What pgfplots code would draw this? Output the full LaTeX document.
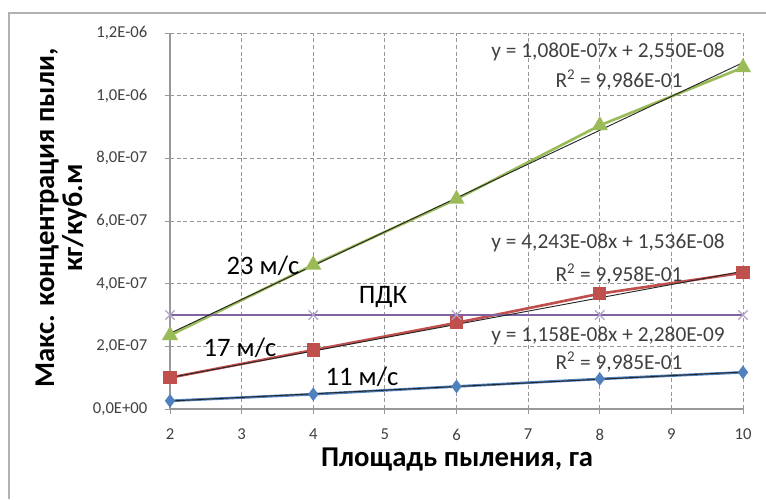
\documentclass[border=0pt]{standalone}
\usepackage{fontspec}
\setmainfont{Carlito}
\usepackage{pgfplots}
\pgfplotsset{compat=1.18}
\definecolor{exblue}{HTML}{4F81BD}
\definecolor{exred}{HTML}{C0504D}
\definecolor{exgreen}{HTML}{9BBB59}
\definecolor{expurple}{HTML}{8064A2}
\definecolor{expurplel}{HTML}{B3A2C7}
\definecolor{txtgray}{HTML}{404040}
\definecolor{gridgray}{HTML}{969696}
\begin{document}
\begin{tikzpicture}[x=0.75pt,y=0.75pt]
\useasboundingbox (0,0) rectangle (766,499);
% frame
\draw[color=black!30, line width=1.2pt] (9,0) -- (9,486) -- (766,486);
\begin{axis}[
  at={(127.5pt,67.5pt)}, anchor=south west,
  scale only axis, width=429.75pt, height=282pt,
  xmin=2, xmax=10, ymin=0, ymax=1.2e-6,
  xtick={2,3,...,10},
  xticklabels={2,3,4,5,6,7,8,9,10},
  ytick={0,2e-7,4e-7,6e-7,8e-7,1e-6,1.2e-6},
  yticklabels={0{,}0E+00,2{,}0E-07,4{,}0E-07,6{,}0E-07,8{,}0E-07,1{,}0E-06,1{,}2E-06},
  scaled y ticks=false,
  /pgf/number format/assume math mode=true,
  axis x line*=bottom, axis y line*=left,
  axis line style={color=black!40, line width=0.9pt},
  tick style={color=black!40, line width=0.7pt},
  tick align=outside, major tick length=4pt,
  grid=major,
  major grid style={color=gridgray, dash pattern=on 3pt off 2pt, line width=0.6pt},
  tick label style={font=\fontsize{12.5}{14}\selectfont, color=txtgray},
  xticklabel style={yshift=-7.5pt},
  yticklabel style={xshift=-9.5pt},
  clip=false,
]
% 11 m/s
\addplot[color=exblue, line width=2pt, mark=diamond*, mark size=3.5pt, mark options={fill=exblue}]
  coordinates {(2,2.6e-8) (4,4.7e-8) (6,7.2e-8) (8,9.6e-8) (10,1.17e-7)};
% 17 m/s
\addplot[color=exred, line width=2pt, mark=square*, mark size=4pt, mark options={fill=exred}]
  coordinates {(2,1.0e-7) (4,1.88e-7) (6,2.75e-7) (8,3.68e-7) (10,4.35e-7)};
% 23 m/s
\addplot[color=exgreen, line width=2pt, mark=triangle*, mark size=5pt, mark options={fill=exgreen}]
  coordinates {(2,2.35e-7) (4,4.6e-7) (6,6.7e-7) (8,9.05e-7) (10,1.09e-6)};
% PDK
\addplot[color=expurple, line width=2pt, mark=x, mark size=5pt, mark options={color=expurplel, line width=1pt}]
  coordinates {(2,3.0e-7) (4,3.0e-7) (6,3.0e-7) (8,3.0e-7) (10,3.0e-7)};
% linear trend lines
\addplot[color=black!85, line width=0.7pt] coordinates {(2,2.544e-8) (10,1.1808e-7)};
\addplot[color=black!85, line width=0.7pt] coordinates {(2,1.0022e-7) (10,4.3966e-7)};
\addplot[color=black!85, line width=0.7pt] coordinates {(2,2.415e-7) (10,1.1055e-6)};
\end{axis}
% series labels
\begin{scope}[every node/.style={font=\fontsize{20}{22}\selectfont, inner sep=0pt}]
\node at (263,233) {23 м/с};
\node at (240,151) {17 м/с};
\node at (362,122) {11 м/с};
\node at (383,202) {ПДК};
\end{scope}
% trend equations
\begin{scope}[every node/.style={font=\fontsize{16}{18}\selectfont, inner sep=0pt, color=txtgray}]
\node at (608,447) {y = 1,080E-07x + 2,550E-08};
\node at (619,419) {R\textsuperscript{2} = 9,986E-01};
\node at (608,256) {y = 4,243E-08x + 1,536E-08};
\node at (619,225) {R\textsuperscript{2} = 9,958E-01};
\node at (608,163) {y = 1,158E-08x + 2,280E-09};
\node at (619,137) {R\textsuperscript{2} = 9,985E-01};
\end{scope}
% axis titles
\node[font=\bfseries\fontsize{21.5}{24}\selectfont] at (457,39) {Площадь пыления, га};
\node[font=\bfseries\fontsize{21.5}{21}\selectfont, rotate=90, align=center] at (61,281)
  {Макс. концентрация пыли,\\кг/куб.м};
\end{tikzpicture}
\end{document}
